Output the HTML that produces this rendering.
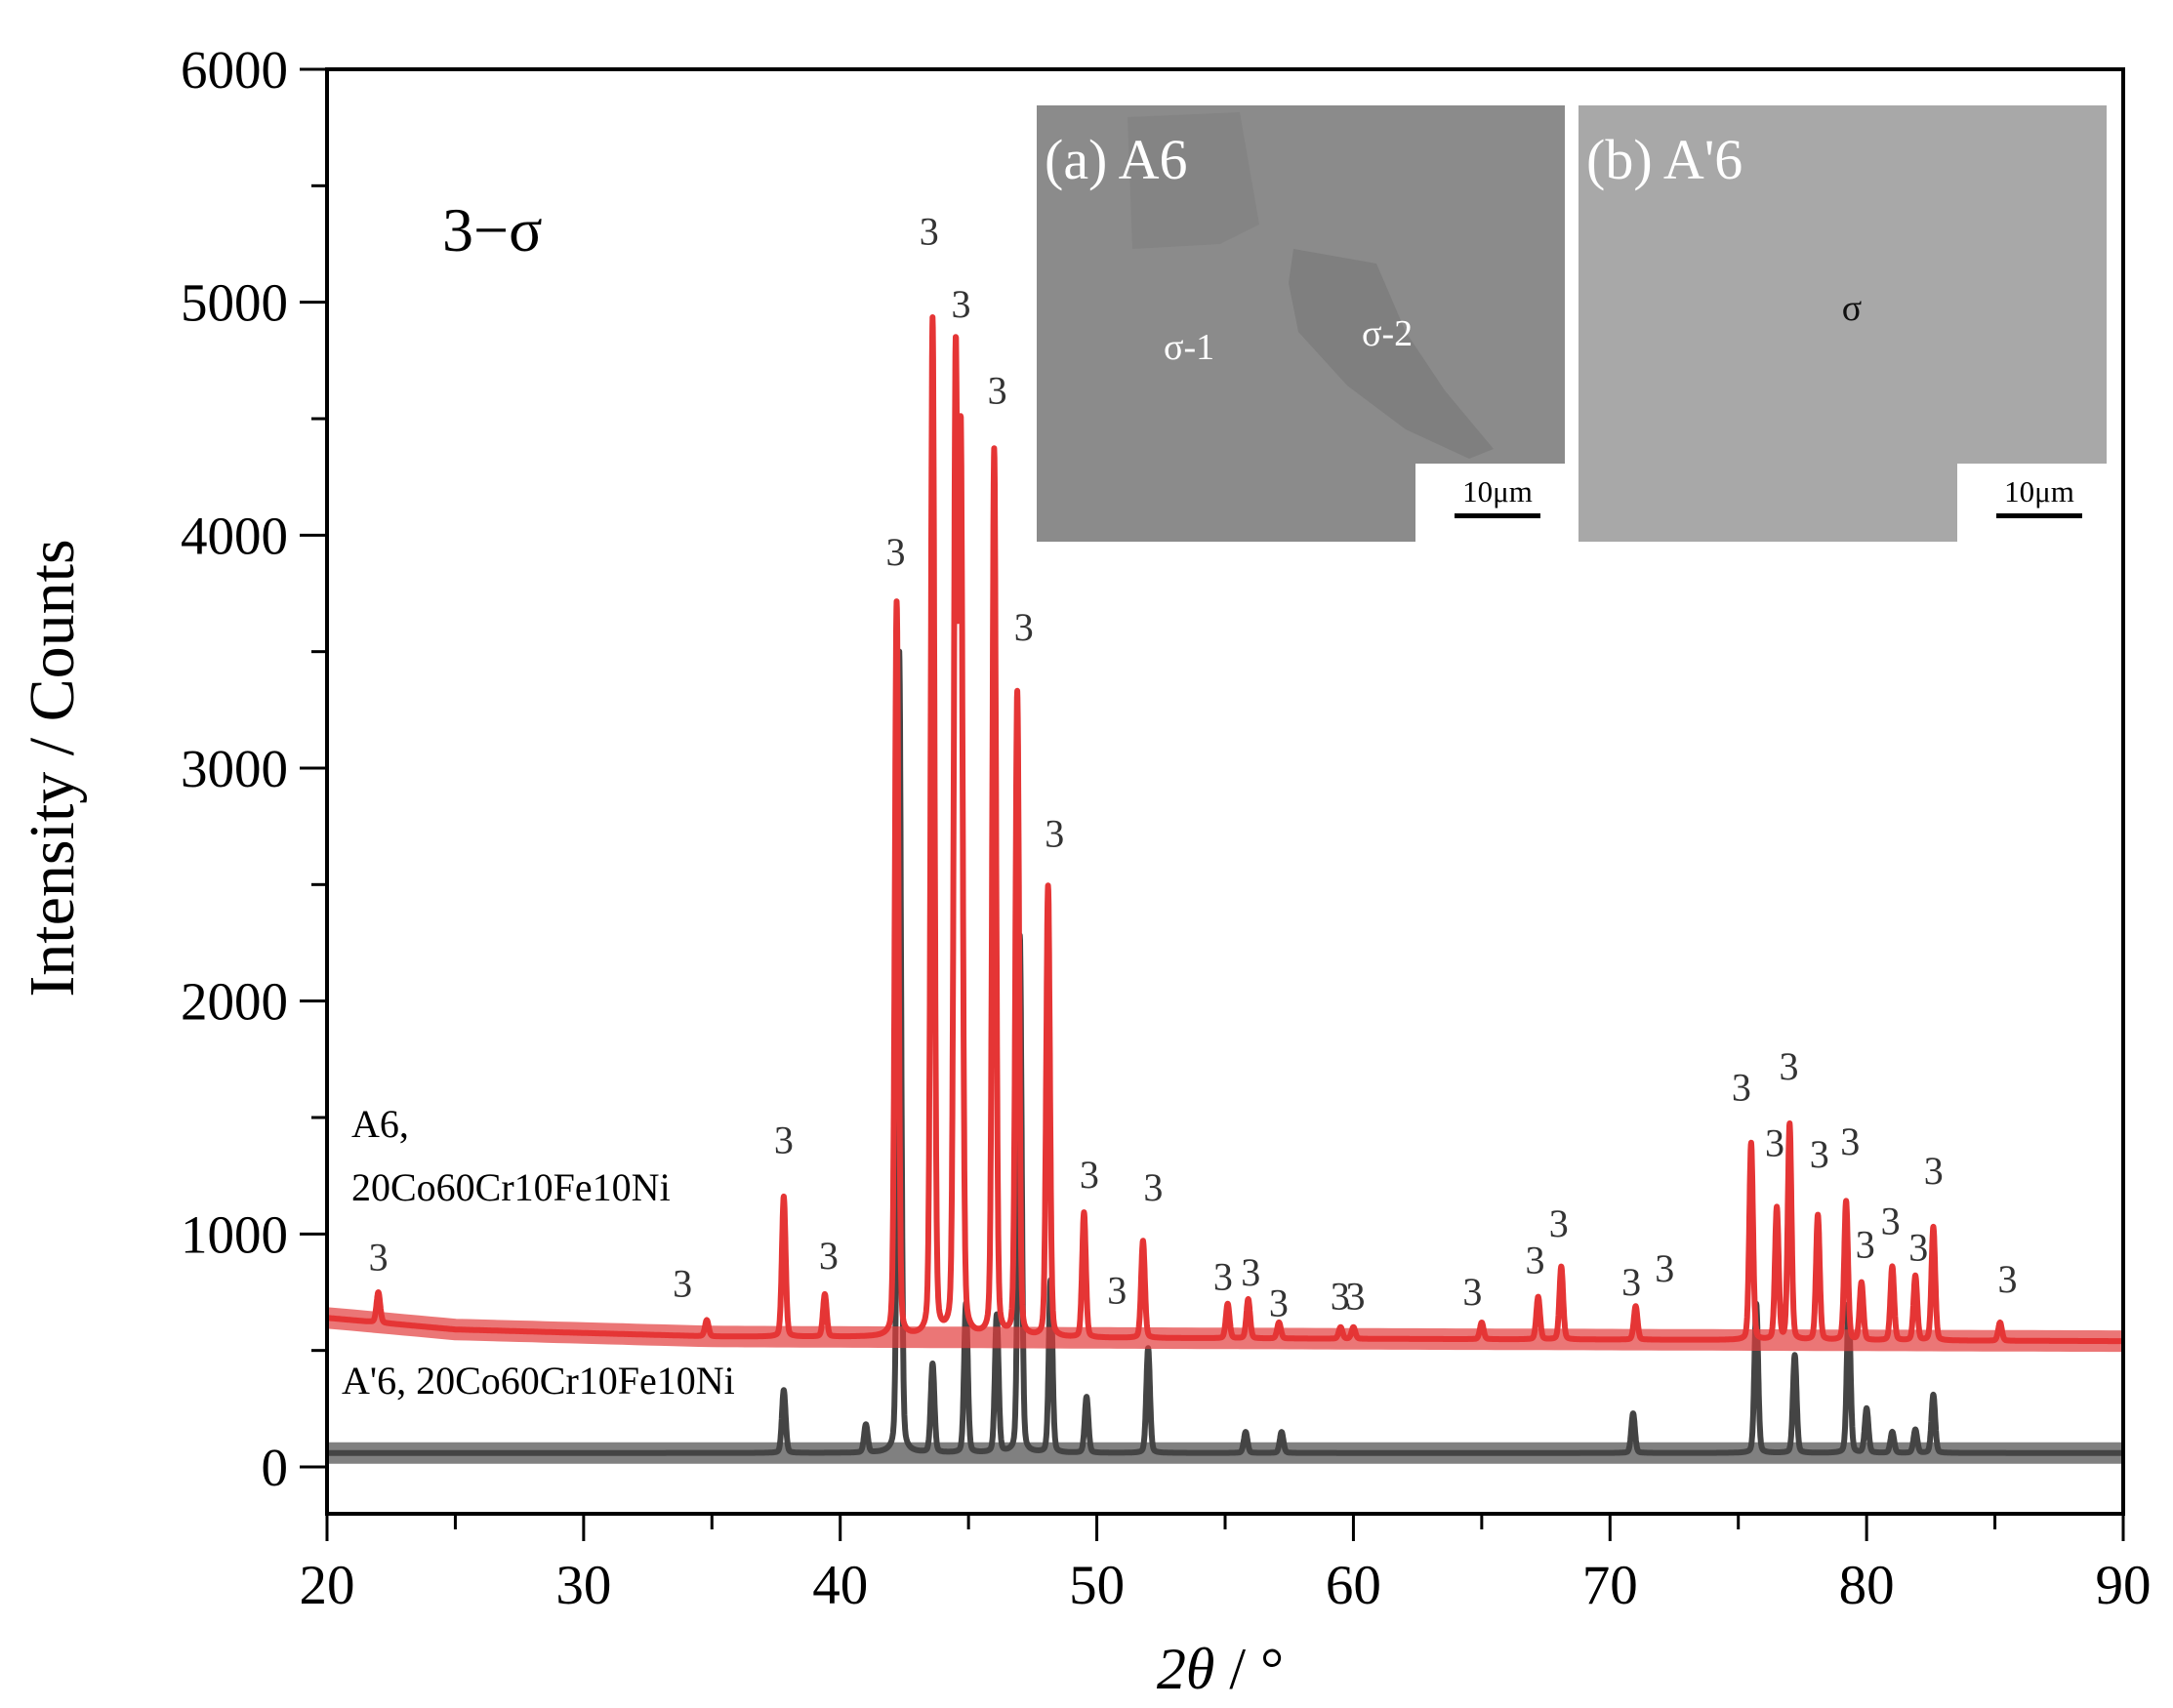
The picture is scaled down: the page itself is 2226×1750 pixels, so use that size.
<!DOCTYPE html>
<html><head><meta charset="utf-8"><style>
html,body{margin:0;padding:0;background:#fff;}
svg{display:block;font-family:"Liberation Serif",serif;}
</style></head><body>
<svg id="chart" width="2226" height="1750" viewBox="0 0 2226 1750" xmlns="http://www.w3.org/2000/svg">
<g id="insets">
  <path d="M1062 108 H1603 V475 H1450 V555 H1062 Z" fill="#8b8b8b"/>
  <path d="M1155 120 L1270 115 L1290 230 L1250 250 L1160 255 Z" fill="#848484"/>
  <path d="M1325 255 L1410 270 L1440 340 L1480 400 L1530 460 L1505 470 L1440 440 L1380 395 L1330 340 L1320 290 Z" fill="#7f7f7f"/>
  <text x="1070" y="183" font-size="58" fill="#fff">(a) A6</text>
  <text x="1192" y="368" font-size="38" fill="#fff">σ-1</text>
  <text x="1395" y="354" font-size="38" fill="#fff">σ-2</text>
  <text x="1534" y="514" font-size="31" text-anchor="middle" fill="#000">10μm</text>
  <rect x="1490" y="526" width="88" height="5" fill="#000"/>
  <path d="M1617 108 H2158 V475 H2005 V555 H1617 Z" fill="#a8a8a8"/>
  <text x="1625" y="183" font-size="58" fill="#fff">(b) A'6</text>
  <text x="1897" y="328" font-size="38" text-anchor="middle" fill="#111">σ</text>
  <text x="2089" y="514" font-size="31" text-anchor="middle" fill="#000">10μm</text>
  <rect x="2045" y="526" width="88" height="5" fill="#000"/>
</g>
<g id="series"></g>
<g id="labels"></g>
<g id="axes"></g>
<text x="453" y="257" font-size="64" fill="#000">3−σ</text>
<text x="360" y="1165" font-size="40" fill="#000">A6,</text>
<text x="360" y="1230" font-size="40" fill="#000">20Co60Cr10Fe10Ni</text>
<text x="350" y="1428" font-size="40" fill="#000">A'6, 20Co60Cr10Fe10Ni</text>
<text transform="translate(75,787) rotate(-90)" font-size="66" text-anchor="middle" fill="#000">Intensity / Counts</text>
<text x="1250" y="1730" font-size="60" text-anchor="middle" fill="#000"><tspan font-style="italic">2θ</tspan> /  °</text>
</svg>
<script>
const xTicks=[20,30,40,50,60,70,80,90];
const yTicks=[0,1000,2000,3000,4000,5000,6000];
const redPeakPos=[22.0,34.8,37.8,39.4,42.2,43.6,44.5,44.7,46.0,46.9,48.1,49.5,51.8,55.1,55.9,57.1,59.5,60.0,65.0,67.2,68.1,71.0,75.5,76.5,77.0,78.1,79.2,79.8,81.0,81.9,82.6,85.2];
const redPeakVal=[750,630,1160,740,3710,4920,4660,4300,4360,3320,2490,1090,970,700,720,620,600,600,620,730,860,690,1390,1110,1470,1080,1140,790,860,820,1030,620];
const blackPeakPos=[37.8,41.0,42.3,43.6,44.9,46.1,47.0,48.2,49.6,52.0,55.8,57.2,70.9,75.7,77.2,79.3,80.0,81.0,81.9,82.6];
const blackPeakVal=[330,180,3500,440,700,650,2280,800,300,510,150,150,230,700,480,700,250,150,160,310];
const redBaseX=[20,25,35,60,90];
const redBaseY=[640,590,560,550,540];
const blackBase=60;
const labelX=[22.0,33.85,37.8,39.55,42.16,43.46,44.71,46.12,47.15,48.35,49.71,50.79,52.2,54.92,56.0,57.09,59.48,60.08,64.64,67.08,68.0,70.83,72.13,75.12,76.42,76.97,78.16,79.36,79.95,80.93,82.02,82.61,85.49];
const labelY=[903,790,1406,909,3930,5306,4995,4624,3607,2722,1256,760,1202,820,837,706,736,736,754,891,1047,796,855,1633,1394,1723,1346,1400,957,1059,945,1274,808];
const labelText=["3","3","3","3","3","3","3","3","3","3","3","3","3","3","3","3","3","3","3","3","3","3","3","3","3","3","3","3","3","3","3","3","3"];

const NS="http://www.w3.org/2000/svg";
const X0=335,X1=2175,Y0=1503,YTOP=71,YBOT=1551;
function xs(v){return X0+(v-20)/70*(X1-X0);}
function ys(v){return Y0-v/6000*(Y0-YTOP);}
function mk(t,a,p){const e=document.createElementNS(NS,t);for(const k in a)e.setAttribute(k,a[k]);p.appendChild(e);return e;}
function interp(xa,ya,x){for(let i=0;i<xa.length-1;i++){if(x<=xa[i+1]){const t=(x-xa[i])/(xa[i+1]-xa[i]);return ya[i]+t*(ya[i+1]-ya[i]);}}return ya[ya.length-1];}
function curve(pos,val,baseFn,w){
  let d="";
  for(let x=20;x<=90.0001;x+=0.01){
    const b=baseFn(x);let y=b;
    for(let i=0;i<pos.length;i++){const h=val[i]-baseFn(pos[i]);const u=(x-pos[i])/w;y+=h*(0.8*Math.exp(-u*u*0.693)+0.2/(1+u*u));}
    d+=(d?"L":"M")+xs(x).toFixed(1)+" "+ys(y).toFixed(1);
  }
  return d;
}
function baseline(baseFn){let d="";for(let x=20;x<=90.0001;x+=0.5){d+=(d?"L":"M")+xs(x).toFixed(1)+" "+ys(baseFn(x)).toFixed(1);}return d;}
const sg=document.getElementById('series');
const bf=()=>blackBase;
const bband=mk('path',{d:baseline(bf),fill:'none',stroke:'#4a4a4a','stroke-width':22,'stroke-opacity':0.7},sg);


const bd=curve(blackPeakPos,blackPeakVal,bf,0.085);
const bl=mk('path',{d:bd,fill:'none',stroke:'#444','stroke-width':6,'stroke-linejoin':'round'},sg);


const rf=x=>interp(redBaseX,redBaseY,x);
const rband=mk('path',{d:baseline(rf),fill:'none',stroke:'#e23c3c','stroke-width':22,'stroke-opacity':0.7},sg);


const rd=curve(redPeakPos,redPeakVal,rf,0.085);
const rl=mk('path',{d:rd,fill:'none',stroke:'#e53535','stroke-width':6,'stroke-linejoin':'round'},sg);



const lg=document.getElementById('labels');
for(let i=0;i<labelX.length;i++){
  const t=mk('text',{x:xs(labelX[i]).toFixed(1),y:(ys(labelY[i])+14).toFixed(1),'font-size':40,'text-anchor':'middle',fill:'#333'},lg);
  t.textContent=labelText[i];
  
  
}

const ag=document.getElementById('axes');
const frame=mk('rect',{x:X0,y:YTOP,width:X1-X0,height:YBOT-YTOP,fill:'none',stroke:'#000','stroke-width':4},ag);


xTicks.forEach((v,i)=>{
  const l=mk('line',{x1:xs(v),x2:xs(v),y1:YBOT,y2:YBOT+28,stroke:'#000','stroke-width':3},ag);
  
  
  if(i<xTicks.length-1){
    const m=mk('line',{x1:xs(v+5),x2:xs(v+5),y1:YBOT,y2:YBOT+16,stroke:'#000','stroke-width':3},ag);
    
    
  }
  const t=mk('text',{x:xs(v),y:YBOT+92,'font-size':57,'text-anchor':'middle',fill:'#000'},ag);
  t.textContent=v;
  
  
});
yTicks.forEach((v,i)=>{
  const l=mk('line',{x1:X0-28,x2:X0,y1:ys(v),y2:ys(v),stroke:'#000','stroke-width':3},ag);
  
  
  if(i<yTicks.length-1){
    const m=mk('line',{x1:X0-16,x2:X0,y1:ys(v+500),y2:ys(v+500),stroke:'#000','stroke-width':3},ag);
    
    
  }
  const t=mk('text',{x:X0-40,y:ys(v)+19,'font-size':55,'text-anchor':'end',fill:'#000'},ag);
  t.textContent=v;
  
  
});
</script>
</body></html>
